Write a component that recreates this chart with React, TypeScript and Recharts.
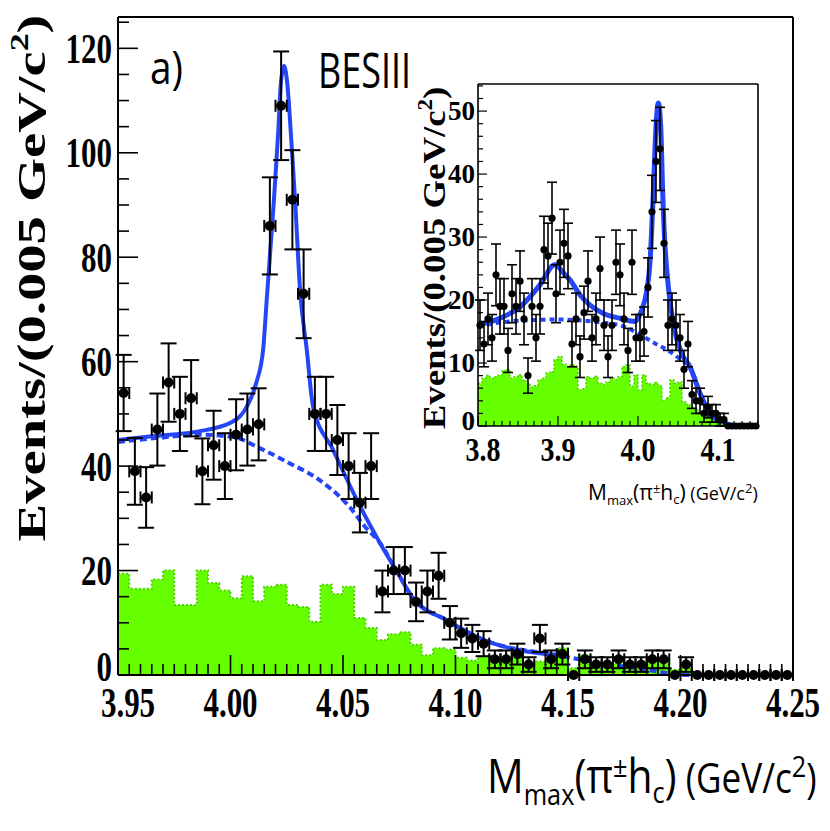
import React from 'react';
import { ComposedChart, Area, Line, Scatter, ErrorBar, XAxis, YAxis, ReferenceLine } from 'recharts';

// ---- main plot: M_max(pi h_c), 3.95–4.25 GeV/c2, 0.005 per bin ----
const MAIN_START = 3.95;
const MAIN_END = 4.25;
const BIN = 0.005;

const mainCounts = [
  54, 39, 34, 47, 56, 50, 53, 39, 44, 40, 46, 47, 48, 86, 109, 91, 73, 50, 50, 45,
  40, 33, 40, 16, 20, 20, 14, 16, 19, 10, 8, 7, 6, 3, 3, 4, 2, 7, 3, 4,
  0, 3, 2, 2, 3, 2, 2, 3, 3, 0, 2, 0, 0, 0, 0, 0, 0, 0, 0, 0,
];
const mainErrors = [
  7.3, 6.4, 5.8, 6.9, 7.5, 7.1, 7.3, 6.3, 6.6, 6.3, 6.8, 6.9, 6.9, 9.3, 10.4, 9.5, 8.5, 7.1, 7.1, 6.7,
  6.3, 5.7, 6.3, 4.0, 4.5, 4.5, 3.7, 4.0, 4.4, 3.2, 2.8, 2.6, 2.4, 1.7, 1.7, 2.0, 1.4, 2.6, 1.7, 2.0,
  0, 1.7, 1.4, 1.4, 1.7, 1.4, 1.4, 1.7, 1.7, 0, 1.4, 0, 0, 0, 0, 0, 0, 0, 0, 0,
];
// green histogram (background estimate)
const mainBackground = [
  19.4, 16.5, 16.5, 18.3, 20.0, 13.4, 13.4, 20.0, 17.6, 16.2, 14.7, 18.9, 14.1, 16.9, 17.3, 13.4, 13.0, 10.2, 17.3, 15.5,
  16.9, 10.9, 9.0, 6.7, 7.8, 8.2, 5.8, 3.8, 5.1, 4.9, 3.3, 2.8, 3.5, 3.5, 3.4, 4.5, 2.3, 2.6, 2.6, 5.1,
  1.3, 3.8, 1.6, 1.6, 2.2, 1.5, 1.9, 2.9, 2.9, 1.0, 1.3, 0, 0, 0, 0, 0, 0, 0, 0, 0,
];
// fit (solid) and background shape (dashed)
const mainFitX = [
  3.95, 3.965, 3.985, 4.0, 4.007, 4.0115, 4.0145, 4.0161, 4.0193, 4.0212, 4.0224, 4.0238, 4.0252,
  4.0268, 4.0287, 4.0309, 4.0339, 4.0367, 4.0456, 4.0576, 4.0664, 4.0753, 4.0811, 4.0961, 4.1122, 4.145,
];
const mainFitY = [
  45.0, 45.7, 46.6, 48.3, 51.2, 56.0, 62.3, 71.9, 91.0, 103.9, 113.4, 116.6, 113.4,
  103.9, 91.0, 73.8, 62.3, 51.4, 43.1, 32.3, 25.3, 18.8, 14.7, 10.5, 6.8, 3.8,
];
const mainBkgX = [
  3.95, 3.97, 3.986, 4.001, 4.0127, 4.026, 4.0393, 4.0527, 4.0598, 4.0664, 4.0753, 4.0811, 4.0961,
  4.1122, 4.145, 4.155, 4.165, 4.175, 4.185, 4.195, 4.2, 4.25,
];
const mainBkgY = [
  44.6, 45.5, 46.0, 45.6, 43.5, 40.6, 37.4, 32.3, 28.4, 25.3, 18.8, 14.7, 10.5,
  6.8, 3.8, 3.0, 2.2, 1.6, 1.0, 0.3, 0, 0,
];
const mainXTickLabels = ['3.95', '4.00', '4.05', '4.10', '4.15', '4.20', '4.25'];
const mainYTickLabels = [0, 20, 40, 60, 80, 100, 120];

// ---- inset: 3.80–4.15 GeV/c2, 0.005 per bin ----
const INSET_START = 3.8;
const INSET_END = 4.15;

const insetCounts = [
  16, 13, 17, 14, 24, 19, 19, 12, 21, 19, 23, 17, 8, 19, 14, 19, 28, 27, 33, 21,
  26, 29, 27, 13, 17, 11, 18, 23, 14, 17, 25, 16, 11, 16, 26, 24, 17, 12, 26, 14,
  14, 15, 22, 34, 42, 44, 29, 16, 17, 16, 14, 9, 13, 5, 4, 4, 2, 3, 2, 2,
  1, 1, 0, 0, 0, 0, 0, 0, 0, 0,
];
const insetErrors = [
  4.0, 3.6, 4.1, 3.7, 4.9, 4.4, 4.4, 3.5, 4.6, 4.4, 4.8, 4.1, 2.8, 4.4, 3.7, 4.4, 5.3, 5.2, 5.7, 4.6,
  5.1, 5.4, 5.2, 3.6, 4.1, 3.3, 4.2, 4.8, 3.7, 4.1, 5.0, 4.0, 3.3, 4.0, 5.1, 4.9, 4.1, 3.5, 5.1, 3.7,
  3.7, 3.9, 4.7, 5.8, 6.5, 6.6, 5.4, 4.0, 4.1, 4.0, 3.7, 3.0, 3.6, 2.2, 2.0, 2.0, 1.4, 1.7, 1.4, 1.4,
  1.0, 1.0, 0, 0, 0, 0, 0, 0, 0, 0,
];
const insetBackground = [
  6.8, 7.6, 8.0, 7.6, 7.8, 8.1, 8.8, 9.0, 7.6, 7.8, 8.1, 7.3, 6.8, 6.2, 6.4, 7.3, 7.6, 8.4, 8.6, 10.5,
  11.0, 9.8, 9.4, 9.7, 9.5, 5.7, 5.9, 7.8, 7.6, 7.9, 6.8, 6.6, 7.0, 7.6, 7.4, 7.8, 9.4, 9.7, 6.3, 8.1,
  5.7, 8.1, 6.8, 6.6, 6.9, 6.4, 4.1, 4.5, 7.3, 6.8, 7.0, 3.8, 3.4, 3.0, 2.5, 2.2, 1.8, 1.5, 1.2, 0.8,
  0.5, 0.2, 0, 0, 0, 0, 0, 0, 0, 0,
];
const insetFitX = [
  3.8, 3.8275, 3.8525, 3.8775, 3.896, 3.909, 3.915, 3.9275, 3.94, 3.956, 3.9775, 3.996, 4.0046,
  4.011, 4.015, 4.0191, 4.0225, 4.0254, 4.0284, 4.0309, 4.0325, 4.0379, 4.0441, 4.0546, 4.065,
  4.0775, 4.09, 4.106, 4.121, 4.15,
];
const insetFitY = [
  16.0, 17.1, 18.9, 22.4, 25.6, 24.0, 23.2, 20.8, 19.2, 17.9, 17.1, 16.6, 18.4,
  21.5, 26.0, 36.9, 47.5, 51.3, 47.5, 36.9, 31.6, 22.1, 16.3, 11.5, 9.4,
  5.2, 2.0, 0.7, 0, 0,
];
const insetBkgX = [
  3.8, 3.825, 3.85, 3.9, 3.95, 3.98, 4.0, 4.02, 4.04, 4.055, 4.065, 4.0775, 4.09, 4.106, 4.121, 4.15,
];
const insetBkgY = [
  15.8, 16.4, 16.7, 16.9, 16.5, 15.9, 14.7, 13.2, 11.8, 10.4, 9.4, 5.2, 2.0, 0.7, 0, 0,
];
const insetXTickLabels = ['3.8', '3.9', '4.0', '4.1'];
const insetYTickLabels = [0, 10, 20, 30, 40, 50];

// ---- styling ----
const SERIF = '"Liberation Serif", "Times New Roman", serif';
const SANS = '"Open Sans", "Noto Sans", sans-serif';
const BLUE = '#2546f7';
const GREEN = '#66ff00';
const GREEN_EDGE = '#4fd400';

const MAIN_Y_MAX = 126;
const INSET_Y_MAX = 54.3;

// build chart tables
const pointsOf = (start: number, counts: number[], errs: number[]) =>
  counts.map((n, i) => ({ x: start + BIN * (i + 0.5), y: n, err: errs[i], xerr: BIN / 2 }));
const stepsOf = (start: number, end: number, vals: number[]) => [
  ...vals.map((v, i) => ({ x: start + BIN * i, y: v })),
  { x: end, y: vals[vals.length - 1] },
];
const curveOf = (xs: number[], ys: number[]) => xs.map((x, i) => ({ x, y: ys[i] }));

const mainPoints = pointsOf(MAIN_START, mainCounts, mainErrors);
const mainSteps = stepsOf(MAIN_START, MAIN_END, mainBackground);
const mainFit = curveOf(mainFitX, mainFitY);
const mainBkg = curveOf(mainBkgX, mainBkgY);

const insetPoints = pointsOf(INSET_START, insetCounts, insetErrors);
const insetSteps = stepsOf(INSET_START, INSET_END, insetBackground);
const insetFit = curveOf(insetFitX, insetFitY);
const insetBkg = curveOf(insetBkgX, insetBkgY);

const round3 = (v: number) => Math.round(v * 1000) / 1000;
const mainXTicks = Array.from({ length: 61 }, (_, i) => round3(MAIN_START + i * BIN));
const mainYTicks = Array.from({ length: 26 }, (_, i) => i * 5);
const insetXTicks = Array.from({ length: 36 }, (_, i) => round3(INSET_START + i * 0.01));
const insetYTicks = Array.from({ length: 28 }, (_, i) => i * 2);

function MainXTick(props: any) {
  const { x, y, payload } = props;
  const k = Math.round((payload.value - MAIN_START) / BIN);
  const major = k % 10 === 0;
  // first label sits a little to the right, clear of the "0"
  const shift = k === 0 ? 10 : 0;
  return (
    <g>
      <line x1={x} x2={x} y1={y} y2={y - (major ? 20 : 11)} stroke="#000" strokeWidth={1.6} />
      {major && (
        <text
          transform={`translate(${x + shift},${y + 42}) scale(1,1.38)`}
          textAnchor="middle"
          fontFamily={SERIF}
          fontWeight="bold"
          fontSize={31}
          fill="#000"
        >
          {mainXTickLabels[k / 10]}
        </text>
      )}
    </g>
  );
}

function MainYTick(props: any) {
  const { x, y, payload } = props;
  const v = payload.value;
  const major = mainYTickLabels.includes(v);
  const lift = v === 0 ? 8 : 0;
  return (
    <g>
      <line x1={x} x2={x + (major ? 20 : 11)} y1={y} y2={y} stroke="#000" strokeWidth={1.6} />
      {major && (
        <text
          transform={`translate(${x - 6},${y - lift}) scale(1,1.38)`}
          textAnchor="end"
          dy={10.5}
          fontFamily={SERIF}
          fontWeight="bold"
          fontSize={31}
          fill="#000"
        >
          {v}
        </text>
      )}
    </g>
  );
}

function InsetXTick(props: any) {
  const { x, y, payload } = props;
  const k = Math.round((payload.value - INSET_START) / 0.01);
  const major = k % 10 === 0;
  const shift = k === 0 ? 5 : 0;
  return (
    <g>
      <line x1={x} x2={x} y1={y} y2={y - (major ? 10 : 5)} stroke="#000" strokeWidth={1.2} />
      {major && (
        <text
          transform={`translate(${x + shift},${y + 35}) scale(1,1.22)`}
          textAnchor="middle"
          fontFamily={SERIF}
          fontWeight="bold"
          fontSize={28}
          fill="#000"
        >
          {insetXTickLabels[k / 10]}
        </text>
      )}
    </g>
  );
}

function InsetYTick(props: any) {
  const { x, y, payload } = props;
  const v = payload.value;
  const major = insetYTickLabels.includes(v);
  const lift = v === 0 ? 5 : 0;
  return (
    <g>
      <line x1={x} x2={x + (major ? 9 : 5)} y1={y} y2={y} stroke="#000" strokeWidth={1.2} />
      {major && (
        <text
          x={x - 3}
          y={y - lift}
          dy={9}
          textAnchor="end"
          fontFamily={SERIF}
          fontWeight="bold"
          fontSize={27}
          fill="#000"
        >
          {v}
        </text>
      )}
    </g>
  );
}

const bigDot = (p: any) => <circle cx={p.cx} cy={p.cy} r={5} fill="#000" />;
const smallDot = (p: any) => <circle cx={p.cx} cy={p.cy} r={3.6} fill="#000" />;

function MainChart() {
  return (
    <ComposedChart width={830} height={831} margin={{ top: 17, right: 37, left: 18, bottom: 96 }}>
      <XAxis
        type="number"
        dataKey="x"
        domain={[MAIN_START, MAIN_END]}
        ticks={mainXTicks}
        interval={0}
        tick={<MainXTick />}
        tickLine={false}
        tickSize={0}
        tickMargin={0}
        height={60}
        axisLine={{ stroke: '#000', strokeWidth: 2 }}
      />
      <YAxis
        type="number"
        domain={[0, MAIN_Y_MAX]}
        ticks={mainYTicks}
        interval={0}
        tick={<MainYTick />}
        tickLine={false}
        tickSize={0}
        tickMargin={0}
        width={100}
        axisLine={{ stroke: '#000', strokeWidth: 2 }}
      />
      <Area
        data={mainSteps}
        dataKey="y"
        type="stepAfter"
        baseValue={0}
        fill={GREEN}
        fillOpacity={1}
        stroke={GREEN_EDGE}
        strokeWidth={2}
        strokeDasharray="2 2"
        isAnimationActive={false}
      />
      <Line data={mainBkg} dataKey="y" type="monotone" stroke={BLUE} strokeWidth={4} strokeDasharray="7 4" dot={false} isAnimationActive={false} />
      <Line data={mainFit} dataKey="y" type="monotone" stroke={BLUE} strokeWidth={4} dot={false} isAnimationActive={false} />
      <Scatter data={mainPoints} dataKey="y" shape={bigDot} isAnimationActive={false}>
        <ErrorBar dataKey="err" direction="y" width={8} stroke="#000" strokeWidth={2} />
        <ErrorBar dataKey="xerr" direction="x" width={6} stroke="#000" strokeWidth={2} />
      </Scatter>
      <ReferenceLine y={MAIN_Y_MAX} stroke="#000" strokeWidth={2} />
      <ReferenceLine x={MAIN_END} stroke="#000" strokeWidth={2} />
    </ComposedChart>
  );
}

function InsetChart() {
  return (
    <ComposedChart width={380} height={400} margin={{ top: 14, right: 22, left: 28, bottom: 14 }}>
      <XAxis
        type="number"
        dataKey="x"
        domain={[INSET_START, INSET_END]}
        ticks={insetXTicks}
        interval={0}
        tick={<InsetXTick />}
        tickLine={false}
        tickSize={0}
        tickMargin={0}
        height={30}
        axisLine={{ stroke: '#000', strokeWidth: 1.6 }}
      />
      <YAxis
        type="number"
        domain={[0, INSET_Y_MAX]}
        ticks={insetYTicks}
        interval={0}
        tick={<InsetYTick />}
        tickLine={false}
        tickSize={0}
        tickMargin={0}
        width={50}
        axisLine={{ stroke: '#000', strokeWidth: 1.6 }}
      />
      <Area
        data={insetSteps}
        dataKey="y"
        type="stepAfter"
        baseValue={0}
        fill={GREEN}
        fillOpacity={1}
        stroke={GREEN_EDGE}
        strokeWidth={1.5}
        strokeDasharray="2 2"
        isAnimationActive={false}
      />
      <Line data={insetBkg} dataKey="y" type="monotone" stroke={BLUE} strokeWidth={4} strokeDasharray="5 4" dot={false} isAnimationActive={false} />
      <Line data={insetFit} dataKey="y" type="monotone" stroke={BLUE} strokeWidth={5} dot={false} isAnimationActive={false} />
      <Scatter data={insetPoints} dataKey="y" shape={smallDot} isAnimationActive={false}>
        <ErrorBar dataKey="err" direction="y" width={5} stroke="#000" strokeWidth={1.6} />
      </Scatter>
      <ReferenceLine y={INSET_Y_MAX} stroke="#000" strokeWidth={1.6} />
      <ReferenceLine x={INSET_END} stroke="#000" strokeWidth={1.6} />
    </ComposedChart>
  );
}

// axis title M_max(pi±h_c) (GeV/c2), squeezed horizontally like the narrow original font
function MassTitle({ x, y, size, sx }: { x: number; y: number; size: number; sx: number }) {
  const sub = size * 0.62;
  const small = size * 0.86;
  return (
    <text transform={`translate(${x},${y}) scale(${sx},1)`} fontFamily={SANS} fontSize={size} fill="#000">
      M
      <tspan fontSize={sub} dy={size * 0.25}>max</tspan>
      <tspan dy={-size * 0.25}>(π</tspan>
      <tspan fontSize={sub} dy={-size * 0.34}>±</tspan>
      <tspan dy={size * 0.34}>h</tspan>
      <tspan fontSize={sub} dy={size * 0.2}>c</tspan>
      <tspan dy={-size * 0.2}>)</tspan>
      <tspan fontSize={small}> (GeV/c</tspan>
      <tspan fontSize={sub} dy={-size * 0.34}>2</tspan>
      <tspan fontSize={small} dy={size * 0.34}>)</tspan>
    </text>
  );
}

function Labels() {
  return (
    <svg width={830} height={831} style={{ position: 'absolute', left: 0, top: 0, pointerEvents: 'none' }}>
      <text
        transform="translate(45,278) rotate(-90) scale(1.38,1)"
        textAnchor="middle"
        fontFamily={SERIF}
        fontWeight="bold"
        fontSize={41}
        fill="#000"
      >
        Events/(0.005 GeV/c<tspan fontSize={26} dy={-17}>2</tspan>
        <tspan dy={17}>)</tspan>
      </text>
      <text
        transform="translate(445,258) rotate(-90) scale(1.15,1)"
        textAnchor="middle"
        fontFamily={SERIF}
        fontWeight="bold"
        fontSize={32}
        fill="#000"
      >
        Events/(0.005 GeV/c<tspan fontSize={20} dy={-13}>2</tspan>
        <tspan dy={13}>)</tspan>
      </text>
      <text x={150} y={84} fontFamily={SANS} fontSize={46} fill="#000" textLength={33} lengthAdjust="spacingAndGlyphs">
        a)
      </text>
      <text x={318} y={88} fontFamily={SANS} fontSize={50} fill="#000" textLength={93} lengthAdjust="spacingAndGlyphs">
        BESIII
      </text>
      <MassTitle x={487} y={793} size={48} sx={0.85} />
      <MassTitle x={588} y={500} size={21} sx={1.0} />
    </svg>
  );
}

export default function App() {
  return (
    <div style={{ position: 'fixed', left: 0, top: 0, width: 830, height: 831, background: '#fff', overflow: 'hidden' }}>
      <div style={{ position: 'absolute', left: 0, top: 0 }}>
        <MainChart />
      </div>
      <div style={{ position: 'absolute', left: 400, top: 70 }}>
        <InsetChart />
      </div>
      <Labels />
    </div>
  );
}
